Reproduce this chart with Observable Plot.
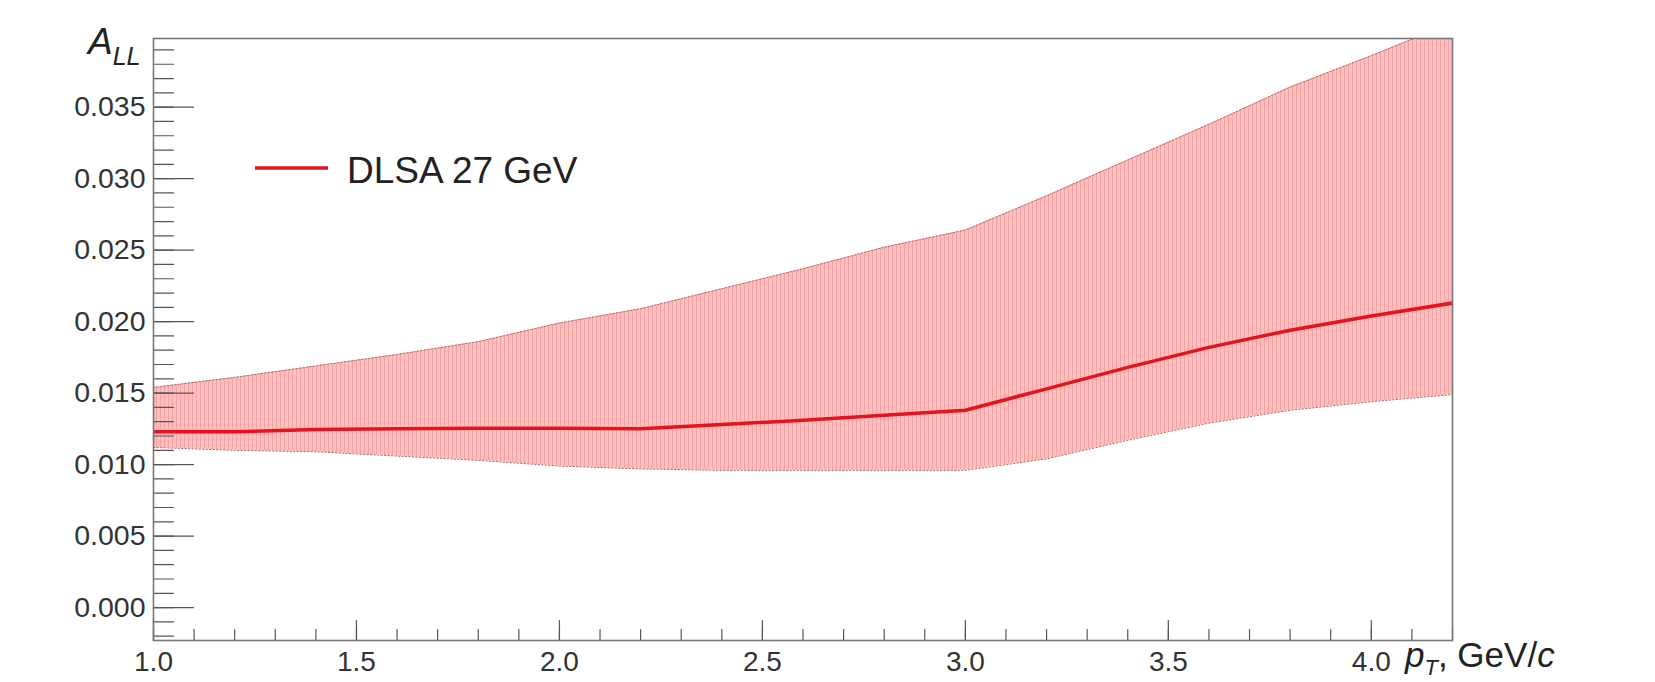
<!DOCTYPE html>
<html>
<head>
<meta charset="utf-8">
<script src="https://cdn.jsdelivr.net/npm/d3@7"></script>
<script src="https://cdn.jsdelivr.net/npm/@observablehq/plot@0.6"></script>
<style>
  html, body { margin: 0; padding: 0; background: #fff; }
</style>
</head>
<body>
<div id="chart"></div>
<script>
// ---- data ----
const pT    = [1.0, 1.2, 1.4, 1.6, 1.8, 2.0, 2.2, 2.4, 2.6, 2.8, 3.0, 3.2, 3.4, 3.6, 3.8, 4.0, 4.2];
const aLL   = [0.0123, 0.0123, 0.01245, 0.0125, 0.01255, 0.01255, 0.0125, 0.0128, 0.0131, 0.01345, 0.0138, 0.0153, 0.0168, 0.0182, 0.0194, 0.0204, 0.0213];
const upper = [0.0154, 0.0161, 0.0169, 0.0177, 0.0186, 0.0199, 0.0209, 0.0223, 0.0237, 0.0252, 0.0264, 0.0288, 0.0313, 0.0338, 0.0364, 0.0386, 0.0409];
const lower = [0.0112, 0.0110, 0.0109, 0.0106, 0.0103, 0.0099, 0.0097, 0.0096, 0.0096, 0.0096, 0.0096, 0.0104, 0.0117, 0.0129, 0.0138, 0.0144, 0.0149];
const legendLabel = "DLSA 27 GeV";
const yMajor = [0.000, 0.005, 0.010, 0.015, 0.020, 0.025, 0.030, 0.035];
const yMinor = d3.range(-2, 40).map(i => i / 1000);
const xMajor = [1.0, 1.5, 2.0, 2.5, 3.0, 3.5, 4.0];
const xMinor = d3.range(10, 43).map(i => i / 10);

const data = pT.map((x, i) => ({x, y: aLL[i], hi: upper[i], lo: lower[i]}));

const red = "#e3141e";
const edge = "#a86a6a";

// plain line shape for tick vectors (no arrowhead)
const tickShape = {draw(context, l) { context.moveTo(0, 0); context.lineTo(0, -l); }};

const plot = Plot.plot({
  width: 1655,
  height: 682,
  marginLeft: 153,
  marginRight: 203,
  marginTop: 38,
  marginBottom: 42,
  style: {fontFamily: "'Liberation Sans', Arial, Helvetica, sans-serif", color: "#333", background: "#fff"},
  x: {domain: [1.0, 4.2]},
  y: {domain: [-0.0023, 0.0398]},
  marks: [
    Plot.areaY(data, {x: "x", y1: "lo", y2: "hi", fill: "url(#hatch)", clip: true}),
    Plot.line(data, {x: "x", y: "hi", stroke: edge, strokeWidth: 1, strokeDasharray: "1.5,2", clip: true}),
    Plot.line(data, {x: "x", y: "lo", stroke: edge, strokeWidth: 1, strokeDasharray: "1.5,2", clip: true}),
    Plot.line(data, {x: "x", y: "y", stroke: red, strokeWidth: 3.5, clip: true}),
    // ticks (inward, ROOT style)
    Plot.vector(yMinor, {y: d => d, frameAnchor: "left", length: 20, rotate: 90, anchor: "start", shape: tickShape, stroke: "#555", strokeWidth: 1.2}),
    Plot.vector(yMajor, {y: d => d, frameAnchor: "left", length: 40, rotate: 90, anchor: "start", shape: tickShape, stroke: "#555", strokeWidth: 1.2}),
    Plot.vector(xMinor, {x: d => d, frameAnchor: "bottom", length: 11, rotate: 0, anchor: "start", shape: tickShape, stroke: "#555", strokeWidth: 1.2}),
    Plot.vector(xMajor, {x: d => d, frameAnchor: "bottom", length: 20, rotate: 0, anchor: "start", shape: tickShape, stroke: "#555", strokeWidth: 1.2}),
    Plot.axisY(yMajor, {tickSize: 0, tickPadding: 8, tickFormat: d3.format(".3f"), fontSize: 28.5, label: null}),
    Plot.axisX(xMajor, {tickSize: 0, tickPadding: 11, tickFormat: d3.format(".1f"), fontSize: 28, label: null}),
    Plot.frame({stroke: "#777", strokeWidth: 1.6})
  ]
});

const svg = d3.select(plot);
const defs = svg.insert("defs", ":first-child");
const pat = defs.append("pattern")
  .attr("id", "hatch").attr("patternUnits", "userSpaceOnUse")
  .attr("width", 4).attr("height", 4);
pat.append("rect").attr("width", 4).attr("height", 4).attr("fill", "#ffbebe");
pat.append("rect").attr("width", 1).attr("height", 4).attr("fill", "#f2a4a4");

// Y axis title A_LL
const yt = svg.append("text")
  .attr("x", 88).attr("y", 54).attr("text-anchor", "start")
  .attr("font-size", 37).attr("font-style", "italic").attr("fill", "#222");
yt.append("tspan").text("A");
yt.append("tspan").attr("dy", 11).attr("font-size", 25).text("LL");

// X axis title p_T, GeV/c
const xt = svg.append("text")
  .attr("x", 1405).attr("y", 667).attr("text-anchor", "start")
  .attr("font-size", 35).attr("fill", "#222");
xt.append("tspan").attr("font-style", "italic").text("p");
xt.append("tspan").attr("dy", 8).attr("font-size", 22).attr("font-style", "italic").text("T");
xt.append("tspan").attr("dy", -8).text(", GeV/");
xt.append("tspan").attr("font-style", "italic").text("c");

// Legend
svg.append("line")
  .attr("x1", 255).attr("x2", 328).attr("y1", 168).attr("y2", 168)
  .attr("stroke", red).attr("stroke-width", 3.5);
svg.append("text")
  .attr("x", 347).attr("y", 183).attr("text-anchor", "start")
  .attr("font-size", 37).attr("fill", "#222")
  .text(legendLabel);

document.getElementById("chart").appendChild(plot);
</script>
</body>
</html>
